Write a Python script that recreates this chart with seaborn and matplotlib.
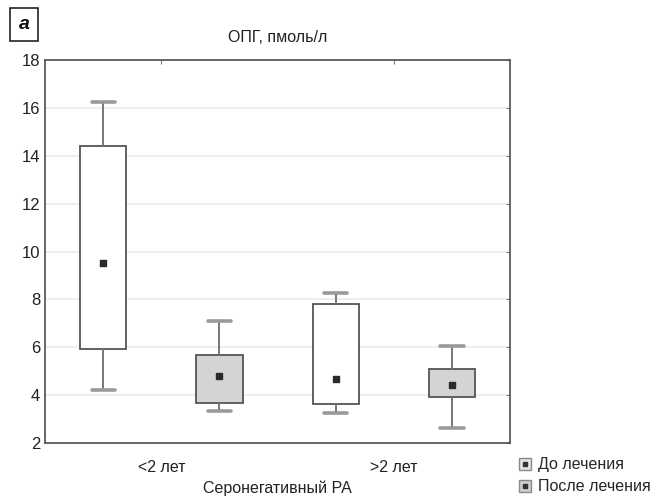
import numpy as np
import pandas as pd
import matplotlib
matplotlib.use('Agg')
import matplotlib.pyplot as plt
import seaborn as sns
from matplotlib.lines import Line2D

GROUPS = ['<2 лет', '>2 лет']
TREATMENTS = ['До лечения', 'После лечения']

# one entry per box: (<2 до, <2 после, >2 до, >2 после)
BOX_GROUP = ['<2 лет', '<2 лет', '>2 лет', '>2 лет']
BOX_TREAT = ['До лечения', 'После лечения', 'До лечения', 'После лечения']
MINS    = [4.20, 3.33, 3.24, 2.62]
Q1      = [5.92, 3.66, 3.63, 3.92]
MEDIANS = [9.54, 4.79, 4.66, 4.41]
Q3      = [14.40, 5.69, 7.82, 5.10]
MAXS    = [16.23, 7.09, 8.25, 6.07]

YTICKS = [2, 4, 6, 8, 10, 12, 14, 16, 18]

sns.set_style('white')
plt.rcParams['font.family'] = ['Liberation Sans Narrow', 'Liberation Sans', 'DejaVu Sans']

# five values per box reproduce min / quartiles / median / max exactly
rows = []
for g, t, a, b, c, d, e in zip(BOX_GROUP, BOX_TREAT, MINS, Q1, MEDIANS, Q3, MAXS):
    for v in (a, b, c, d, e):
        rows.append({'group': g, 'treat': t, 'value': v})
df = pd.DataFrame(rows)

fig = plt.figure(figsize=(6.66, 5.0), dpi=100)
fig.patch.set_facecolor('#FFFFFF')
ax = fig.add_axes([0.0676, 0.114, 0.6985, 0.766])

edge = '#555555'
sns.boxplot(
    data=df, x='group', y='value', hue='treat',
    order=GROUPS, hue_order=TREATMENTS,
    palette={'До лечения': '#FFFFFF', 'После лечения': '#D4D4D4'},
    whis=(0, 100), width=1.0, gap=0.6, linecolor=edge, linewidth=1.3,
    medianprops={'visible': False},
    whiskerprops={'color': '#777777', 'linewidth': 1.4},
    capprops={'color': '#9A9A9A', 'linewidth': 2.6},
    legend=False, ax=ax, zorder=3,
)

# median squares at dodged positions
offs = {'До лечения': -0.25, 'После лечения': 0.25}
xs = [GROUPS.index(g) + offs[t] for g, t in zip(BOX_GROUP, BOX_TREAT)]
ax.scatter(xs, MEDIANS, marker='s', s=22, color='#2A2A2A', zorder=5)

ax.set_xlim(-0.5, 1.5)
ax.set_ylim(2, 18)
ax.set_yticks(YTICKS)
ax.yaxis.grid(True, color='#EBEBEB', linewidth=1.2)
ax.set_axisbelow(True)
for s in ax.spines.values():
    s.set_color('#5A5A5A')
    s.set_linewidth(1.3)
    s.set_visible(True)
ax.tick_params(axis='both', direction='in', length=3, color='#777777',
               top=True, right=True, labelsize=12, labelcolor='#222222')
ax.tick_params(axis='x', pad=12, labelsize=11.5)
ax.set_xlabel('Серонегативный РА', fontsize=11.5, color='#222222', labelpad=4)
ax.set_ylabel('')
ax.set_title('ОПГ, пмоль/л', fontsize=11.5, color='#222222', pad=13)

# panel letter
fig.text(0.036, 0.951, 'а', fontsize=14, fontweight='bold', fontstyle='italic',
         ha='center', va='center', color='#111111',
         bbox=dict(boxstyle='square,pad=0.42', facecolor='white', edgecolor='#222222', linewidth=1.2))

def legend_handle(face):
    outer = Line2D([], [], marker='s', linestyle='none', markersize=9,
                   markerfacecolor=face, markeredgecolor='#8A8A8A')
    inner = Line2D([], [], marker='s', linestyle='none', markersize=3.5,
                   markerfacecolor='#333333', markeredgecolor='#333333')
    return (outer, inner)

handles = [legend_handle('#E4E4E4'), legend_handle('#CFCFCF')]
fig.legend(handles, TREATMENTS, loc='lower left', bbox_to_anchor=(0.762, -0.008),
           frameon=False, fontsize=11.5, handletextpad=0.3, labelspacing=0.45,
           handlelength=1.0, borderaxespad=0.2)

fig.savefig('out.png', dpi=100, facecolor=fig.get_facecolor())
